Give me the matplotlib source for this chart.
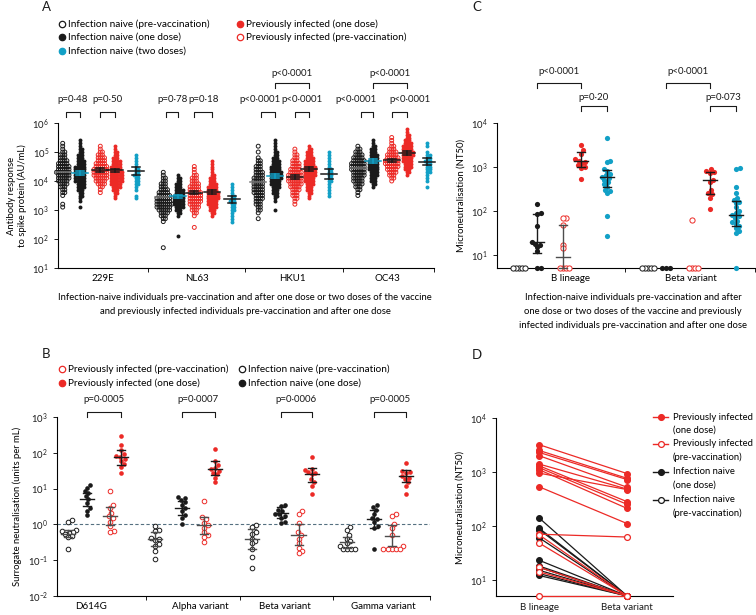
import numpy as np
import matplotlib
matplotlib.use('Agg')
import matplotlib.pyplot as plt
import matplotlib.transforms as mtransforms

plt.rcParams['font.family'] = ['Lato', 'DejaVu Sans']
plt.rcParams['mathtext.fontset'] = 'custom'
plt.rcParams['mathtext.rm'] = 'Lato'
plt.rcParams['font.size'] = 6.8
plt.rcParams['axes.linewidth'] = 0.8

RED = '#ec2a26'
BLUE = '#12a0c6'
BLACK = '#1a1a1a'
GREY = '#4d4d4d'

# ---------------- panel A: antibody response (log10 AU/mL) ----------------
# each column: (first log10 bin, counts per 0.1 log10 bin) read off the swarms
# column order: naive pre, naive one dose, previously infected pre, previously infected one dose, naive two doses
a_viruses = ['229E', 'NL63', 'HKU1', 'OC43']
a_229e = [(3.1, [1, 1, 0, 0, 1, 2, 2, 3, 4, 5, 6, 6, 7, 6, 6, 5, 4, 3, 3, 2, 1, 1, 1]),
          (3.1, [1, 0, 1, 1, 2, 2, 3, 4, 4, 5, 5, 5, 5, 5, 5, 4, 4, 3, 3, 2, 2, 1, 1, 1]),
          (3.6, [1, 1, 2, 4, 5, 6, 7, 7, 7, 6, 5, 4, 4, 3, 2, 1, 1]),
          (3.4, [1, 1, 2, 3, 4, 5, 6, 6, 6, 6, 5, 5, 4, 4, 3, 2, 2, 1, 1]),
          (3.4, [1, 1, 0, 1, 1, 2, 2, 2, 3, 2, 2, 1, 1, 1, 1, 1])]
a_nl63 = [(1.7, [1, 0, 0, 0, 0, 0, 0, 0, 0, 1, 2, 3, 4, 6, 7, 8, 7, 7, 6, 5, 4, 3, 3, 2, 2, 1, 1]),
          (2.1, [1, 0, 0, 0, 0, 0, 0, 1, 2, 3, 4, 5, 5, 5, 5, 4, 4, 3, 3, 2, 2, 1]),
          (2.4, [1, 0, 0, 0, 1, 2, 3, 4, 5, 6, 6, 6, 6, 5, 5, 4, 3, 3, 2, 1, 1, 1]),
          (2.8, [1, 2, 3, 4, 5, 5, 6, 6, 6, 5, 5, 4, 3, 3, 2, 1, 1, 1, 1, 1]),
          (2.6, [1, 1, 1, 1, 2, 2, 2, 3, 2, 2, 1, 1, 1, 1])]
a_hku1 = [(2.7, [1, 0, 1, 2, 2, 3, 3, 4, 4, 5, 5, 5, 5, 5, 5, 4, 4, 3, 3, 2, 2, 1, 0, 1, 0, 1]),
          (3.0, [1, 0, 0, 1, 1, 2, 3, 3, 4, 5, 5, 6, 6, 6, 5, 5, 4, 4, 3, 2, 2, 1, 1, 1, 1]),
          (3.2, [1, 1, 2, 3, 3, 4, 5, 6, 7, 7, 7, 6, 5, 4, 4, 3, 2, 2, 1, 1]),
          (3.4, [1, 1, 2, 3, 3, 4, 5, 5, 6, 6, 6, 6, 5, 5, 4, 3, 3, 2, 1]),
          (3.5, [1, 1, 1, 1, 1, 2, 2, 2, 2, 2, 1, 1, 1, 1, 1, 1])]
a_oc43 = [(3.5, [1, 1, 2, 3, 4, 5, 5, 6, 6, 7, 7, 7, 6, 5, 4, 3, 2, 1]),
          (3.8, [1, 2, 3, 3, 4, 4, 5, 5, 5, 5, 4, 4, 3, 3, 2, 1, 1]),
          (4.0, [1, 2, 3, 4, 5, 6, 7, 7, 6, 5, 4, 3, 2, 1, 1, 1]),
          (4.2, [1, 2, 3, 4, 4, 5, 5, 6, 6, 5, 5, 4, 3, 2, 2, 1, 1]),
          (3.8, [1, 0, 1, 1, 1, 2, 2, 2, 2, 3, 2, 2, 1, 0, 1, 1])]
a_profiles = [a_229e, a_nl63, a_hku1, a_oc43]
a_median_log = [[4.30, 4.28, 4.38, 4.37, 4.35],
                [3.45, 3.47, 3.60, 3.62, 3.37],
                [3.97, 4.17, 4.14, 4.40, 4.25],
                [4.45, 4.70, 4.72, 4.97, 4.66]]
a_halfci_log = [[0, 0.07, 0.06, 0.06, 0.15],
                [0, 0.06, 0.06, 0.06, 0.13],
                [0, 0.07, 0.07, 0.07, 0.18],
                [0, 0.07, 0.05, 0.06, 0.12]]
a_pvals_low = [['p=0·48', 'p=0·50'], ['p=0·78', 'p=0·18'],
               ['p<0·0001', 'p<0·0001'], ['p<0·0001', 'p<0·0001']]
a_pvals_high = [None, None, 'p<0·0001', 'p<0·0001']

# ---------------- panel B: surrogate neutralisation (units per mL) ----------------
b_variants = ['D614G', 'Alpha variant', 'Beta variant', 'Gamma variant']
b_naive_pre = [[1.3, 1.15, 0.72, 0.65, 0.63, 0.59, 0.53, 0.47, 0.45, 0.2],
               [0.9, 0.72, 0.65, 0.42, 0.4, 0.36, 0.28, 0.25, 0.18, 0.11],
               [0.95, 0.85, 0.6, 0.55, 0.4, 0.35, 0.3, 0.2, 0.12, 0.06],
               [0.85, 0.7, 0.5, 0.4, 0.35, 0.3, 0.25, 0.2, 0.2, 0.2, 0.2]]
b_naive_one = [[12.6, 10.7, 8.5, 7.7, 6.2, 5.0, 3.9, 2.9, 2.4, 1.8],
               [5.8, 5.5, 4.8, 4.2, 3.5, 2.8, 2.4, 1.8, 1.5, 1.0],
               [3.5, 3.2, 2.6, 2.3, 2.0, 1.9, 1.7, 1.5, 1.2, 1.1],
               [3.5, 3.0, 2.5, 2.0, 1.5, 1.4, 1.2, 0.9, 0.8, 0.2]]
b_prev_pre = [[8.3, 3.5, 2.9, 2.1, 1.7, 1.5, 1.2, 0.9, 0.65, 0.62],
              [4.5, 1.6, 1.4, 1.1, 0.95, 0.8, 0.6, 0.5, 0.45, 0.32],
              [2.3, 2.0, 1.1, 0.6, 0.5, 0.4, 0.3, 0.22, 0.18, 0.16],
              [1.9, 1.7, 1.0, 0.8, 0.5, 0.25, 0.2, 0.2, 0.2, 0.2, 0.2]]
b_prev_one = [[300, 165, 120, 90, 83, 78, 69, 60, 48, 39, 28],
              [125, 60, 45, 38, 35, 32, 28, 25, 20, 15],
              [75, 35, 33, 30, 28, 25, 18, 15, 12, 7],
              [52, 32, 30, 28, 22, 20, 18, 15, 12, 7]]
# centre, lower, upper of the bars
b_bar_naive_pre = [(0.55, 0.45, 0.7), (0.38, 0.25, 0.6), (0.38, 0.2, 0.75), (0.32, 0.22, 0.45)]
b_bar_naive_one = [(5.0, 3.3, 7.5), (2.8, 1.8, 4.5), (2.1, 1.5, 3.0), (1.4, 0.8, 2.5)]
b_bar_prev_pre = [(1.7, 0.95, 3.0), (0.95, 0.55, 1.6), (0.5, 0.27, 1.0), (0.47, 0.25, 0.95)]
b_bar_prev_one = [(75, 45, 120), (35, 24, 58), (25, 15, 38), (22, 15, 33)]
b_pvals = ['p=0·0005', 'p=0·0007', 'p=0·0006', 'p=0·0005']

# ---------------- panel C: microneutralisation (NT50) ----------------
c_variants = ['B lineage', 'Beta variant']
c_naive_pre = [[5, 5, 5, 5, 5], [5, 5, 5, 5, 5]]
c_naive_one = [[140, 90, 85, 45, 20, 18, 17, 15, 12, 5, 5], [5, 5, 5]]
c_prev_pre = [[70, 68, 48, 17, 14, 5, 5, 5, 5], [62, 5, 5, 5, 5]]
c_prev_one = [[3200, 2400, 2000, 1500, 1400, 1300, 1200, 1100, 1000, 950, 530],
              [900, 800, 760, 740, 500, 450, 300, 260, 240, 200, 110]]
c_naive_two = [[4500, 1400, 1300, 900, 800, 700, 650, 600, 550, 500, 450, 400, 350, 300, 280, 250, 78, 27],
               [950, 900, 350, 250, 200, 180, 160, 150, 120, 100, 90, 80, 75, 70, 60, 55, 50, 45, 40, 35, 32, 5]]
c_bar_naive_one = [(20, 11, 85), None]
c_bar_prev_pre = [(9, 5, 48), None]
c_bar_prev_one = [(1350, 1000, 2200), (500, 240, 760)]
c_bar_naive_two = [(600, 350, 850), (80, 45, 170)]

# ---------------- panel D: paired B lineage vs Beta variant ----------------
d_prev_one_b = [3200, 2500, 2300, 2000, 1400, 1300, 1200, 1100, 950, 530]
d_prev_one_beta = [930, 760, 720, 520, 480, 280, 250, 210, 470, 110]
d_prev_pre_b = [70, 68, 48, 17, 14, 5]
d_prev_pre_beta = [62, 5, 5, 5, 5, 5]
d_naive_one_b = [140, 90, 85, 60, 23, 18, 17, 15, 13, 12]
d_naive_one_beta = [5, 5, 5, 5, 5, 5, 5, 5, 5, 5]

W, H = 756, 615
fig = plt.figure(figsize=(W / 100, H / 100), dpi=100)
ov = fig.add_axes([0, 0, 1, 1])
ov.set_xlim(0, W)
ov.set_ylim(H, 0)
ov.axis('off')
ov.set_zorder(10)


def px_axes(l, t, r, b):
    a = fig.add_axes([l / W, 1 - b / H, (r - l) / W, (b - t) / H])
    a.patch.set_visible(False)
    return a


def style(ax):
    for s in ['top', 'right']:
        ax.spines[s].set_visible(False)
    ax.tick_params(direction='out', length=3, width=0.7, labelsize=6.8, colors=BLACK)


def log_ticks(ax, lo, hi):
    t = [10.0 ** k for k in range(lo, hi + 1)]
    ax.set_yticks(t)
    ax.set_yticklabels([r'$\mathregular{10^{%d}}$' % k for k in range(lo, hi + 1)])
    ax.minorticks_off()


def swarm_x(ax, xc, vals, diam):
    vals = np.asarray(vals, dtype=float)
    xy = ax.transData.transform(np.column_stack([np.full(len(vals), xc), vals]))
    x0 = xy[0, 0]
    ys = xy[:, 1]
    order = np.argsort(ys, kind='stable')
    px, py = [], []
    out = np.zeros(len(vals))
    for i in order:
        y = ys[i]
        near = [(bx, by) for bx, by in zip(px, py) if abs(by - y) < diam]
        cands = [0.0]
        for bx, by in near:
            d = np.sqrt(diam ** 2 - (by - y) ** 2)
            cands += [bx + d, bx - d]
        cands.sort(key=abs)
        c = cands[-1]
        for cc in cands:
            if all((cc - bx) ** 2 + (y - by) ** 2 >= diam ** 2 - 1e-6 for bx, by in near):
                c = cc
                break
        px.append(c)
        py.append(y)
        out[i] = c
    back = ax.transData.inverted().transform(np.column_stack([x0 + out, ys]))
    return back[:, 0]


def draw_swarm(ax, xc, vals, color, filled, diam, size, z=3, hollow='white'):
    xs = swarm_x(ax, xc, vals, diam)
    if filled:
        ax.scatter(xs, vals, s=size, color=color, linewidths=0, zorder=z, clip_on=False)
    else:
        ax.scatter(xs, vals, s=size, facecolors=hollow, edgecolors=color, linewidths=0.7,
                   zorder=z, clip_on=False)


def med_bar(ax, x, bar, color, unit_px, half_px=7, cap_px=4, lw=1.0):
    if bar is None:
        return
    mid, lo, hi = bar
    h = half_px / unit_px
    c = cap_px / unit_px
    ax.plot([x - h, x + h], [mid, mid], color=color, lw=lw, zorder=6, clip_on=False)
    if lo is not None and hi is not None and hi > lo:
        ax.plot([x, x], [lo, hi], color=color, lw=lw, zorder=6, clip_on=False)
        ax.plot([x - c, x + c], [lo, lo], color=color, lw=lw, zorder=6, clip_on=False)
        ax.plot([x - c, x + c], [hi, hi], color=color, lw=lw, zorder=6, clip_on=False)


def bracket(ax, x1, x2, ytop, label, ylab, xlab=None, drop=5):
    tr = mtransforms.blended_transform_factory(ax.transData, ov.transData)
    ax.plot([x1, x1, x2, x2], [ytop + drop, ytop, ytop, ytop + drop], color=BLACK, lw=0.8,
            transform=tr, clip_on=False)
    if xlab is None:
        xlab = (x1 + x2) / 2
    ax.text(xlab, ylab, label, transform=tr, ha='center', va='center', fontsize=7, color=BLACK)


def group_axis(ax, bounds, label_pos, labels):
    ax.set_xticks(bounds)
    ax.set_xticklabels([])
    ax.set_xticks(label_pos, minor=True)
    ax.set_xticklabels(labels, minor=True)
    ax.tick_params(axis='x', which='minor', length=0, pad=4, labelsize=7)


# ---------------- A ----------------
axA = px_axes(58, 123, 434, 268)
style(axA)
axA.set_yscale('log')
axA.set_ylim(10, 1e6)
axA.set_xlim(0, 4)
log_ticks(axA, 1, 6)
group_axis(axA, [0.96, 1.99, 3.03, 4.0], [0.48, 1.48, 2.49, 3.5], a_viruses)
a_xoff = [[0.05, 0.23, 0.45, 0.61, 0.83],
          [0.12, 0.28, 0.45, 0.64, 0.85],
          [0.13, 0.31, 0.52, 0.67, 0.88],
          [0.19, 0.35, 0.55, 0.71, 0.93]]
a_style = [(BLACK, False), (BLACK, True), (RED, False), (RED, True), (BLUE, True)]
a_barcol = ['#777777', BLUE, BLACK, BLACK, BLACK]
for g, prof in enumerate(a_profiles):
    for c, (start, counts) in enumerate(prof):
        vals = []
        for i, n in enumerate(counts):
            vals += [10 ** (start + 0.1 * i)] * n
        col, filled = a_style[c]
        x = g + a_xoff[g][c]
        draw_swarm(axA, x, vals, col, filled, 2.1, 8, hollow='none')
        m = a_median_log[g][c]
        e = a_halfci_log[g][c]
        bar = (10 ** m, 10 ** (m - e), 10 ** (m + e)) if e > 0 else (10 ** m, None, None)
        med_bar(axA, x, bar, a_barcol[c], 94, half_px=8, cap_px=4, lw=1.1)
    xo = [g + v for v in a_xoff[g]]
    lo_lab = [None, None]
    if g == 2:
        lo_lab = [xo[0] + 0.02, None]
    if g == 3:
        lo_lab = [xo[0] - 0.02, xo[2] + 0.2]
    bracket(axA, xo[0] + 0.03, xo[1], 112, a_pvals_low[g][0], 100, lo_lab[0])
    bracket(axA, xo[2], xo[3], 112, a_pvals_low[g][1], 100, lo_lab[1])
    if a_pvals_high[g]:
        bracket(axA, xo[1], xo[3], 83, a_pvals_high[g], 74)
axA.set_ylabel('Antibody response\nto spike protein (AU/mL)', fontsize=6.8, labelpad=4)
ov.text(245, 298, 'Infection-naive individuals pre-vaccination and after one dose or two doses of the vaccine',
        ha='center', va='center', fontsize=6.8)
ov.text(245, 312, 'and previously infected individuals pre-vaccination and after one dose',
        ha='center', va='center', fontsize=6.8)


def leg_marker(x, y, color, filled, ms=4.6):
    ov.plot([x], [y], marker='o', ms=ms, color=color,
            mfc=color if filled else 'white', mew=0.9, ls='none')


a_leg = [(62, 24, BLACK, False, 'Infection naive (pre-vaccination)'),
         (62, 37, BLACK, True, 'Infection naive (one dose)'),
         (62, 51, BLUE, True, 'Infection naive (two doses)'),
         (240, 24, RED, True, 'Previously infected (one dose)'),
         (240, 37, RED, False, 'Previously infected (pre-vaccination)')]
for x, y, col, f, t in a_leg:
    leg_marker(x, y, col, f)
    ov.text(x + 6, y, t, ha='left', va='center', fontsize=7.2)

# ---------------- B ----------------
axB = px_axes(57, 417, 430, 596)
style(axB)
axB.set_yscale('log')
axB.set_ylim(1e-2, 1e3)
axB.set_xlim(0, 4)
log_ticks(axB, -2, 3)
group_axis(axB, [0.95, 1.96, 2.96, 4.0], [0.36, 1.54, 2.44, 3.5], b_variants)
axB.axhline(1.0, color='#557080', lw=0.8, ls=(0, (3, 2)), zorder=1)
b_xoff = [[0.12, 0.32, 0.57, 0.69],
          [0.05, 0.34, 0.58, 0.69],
          [0.09, 0.40, 0.59, 0.73],
          [0.11, 0.40, 0.59, 0.74]]
for g in range(4):
    xo = [g + v for v in b_xoff[g]]
    draw_swarm(axB, xo[0], b_naive_pre[g], BLACK, False, 4.2, 11)
    draw_swarm(axB, xo[1], b_naive_one[g], BLACK, True, 4.2, 11)
    draw_swarm(axB, xo[2], b_prev_pre[g], RED, False, 4.2, 11)
    draw_swarm(axB, xo[3], b_prev_one[g], RED, True, 4.2, 11)
    med_bar(axB, xo[0], b_bar_naive_pre[g], GREY, 93)
    med_bar(axB, xo[1], b_bar_naive_one[g], BLACK, 93)
    med_bar(axB, xo[2], b_bar_prev_pre[g], GREY, 93)
    med_bar(axB, xo[3], b_bar_prev_one[g], BLACK, 93)
    bracket(axB, xo[1], xo[3], 412, b_pvals[g], 400)
axB.set_ylabel('Surrogate neutralisation (units per mL)', fontsize=6.8, labelpad=4)

b_leg = [(62, 369, RED, False, 'Previously infected (pre-vaccination)'),
         (62, 383, RED, True, 'Previously infected (one dose)'),
         (242, 369, BLACK, False, 'Infection naive (pre-vaccination)'),
         (242, 383, BLACK, True, 'Infection naive (one dose)')]
for x, y, col, f, t in b_leg:
    leg_marker(x, y, col, f)
    ov.text(x + 6, y, t, ha='left', va='center', fontsize=7.2)

# ---------------- C ----------------
axC = px_axes(497, 123, 755, 268)
style(axC)
axC.set_yscale('log')
axC.set_ylim(5, 1e4)
axC.set_xlim(0, 2)
log_ticks(axC, 1, 4)
group_axis(axC, [0.99, 2.0], [0.57, 1.5], c_variants)
c_xoff = [0.17, 0.31, 0.51, 0.65, 0.85]
for g in range(2):
    xo = [g + v for v in c_xoff]
    draw_swarm(axC, xo[0], c_naive_pre[g], BLACK, False, 3.0, 14)
    draw_swarm(axC, xo[1], c_naive_one[g], BLACK, True, 4.0, 14)
    draw_swarm(axC, xo[2], c_prev_pre[g], RED, False, 3.0, 14)
    draw_swarm(axC, xo[3], c_prev_one[g], RED, True, 4.0, 14)
    draw_swarm(axC, xo[4], c_naive_two[g], BLUE, True, 4.0, 14)
    med_bar(axC, xo[1], c_bar_naive_one[g], BLACK, 129)
    med_bar(axC, xo[2], c_bar_prev_pre[g], GREY, 129)
    med_bar(axC, xo[3], c_bar_prev_one[g], BLACK, 129)
    med_bar(axC, xo[4], c_bar_naive_two[g], BLACK, 129)
bracket(axC, c_xoff[1], c_xoff[3], 83, 'p<0·0001', 72)
bracket(axC, c_xoff[3], c_xoff[4], 106, 'p=0·20', 97)
bracket(axC, 1 + c_xoff[1], 1 + c_xoff[3], 83, 'p<0·0001', 72)
bracket(axC, 1 + c_xoff[3], 1 + c_xoff[4], 106, 'p=0·073', 97)
axC.set_ylabel('Microneutralisation (NT50)', fontsize=6.8, labelpad=4)
for y, t in [(298, 'Infection-naive individuals pre-vaccination and after'),
             (312, 'one dose or two doses of the vaccine and previously'),
             (325, 'infected individuals pre-vaccination and after one dose')]:
    ov.text(633, y, t, ha='center', va='center', fontsize=6.8)

# ---------------- D ----------------
axD = px_axes(496, 418, 673, 596)
style(axD)
axD.set_yscale('log')
axD.set_ylim(5, 1e4)
axD.set_xlim(-0.49, 1.52)
log_ticks(axD, 1, 4)
axD.set_xticks([0, 1])
axD.set_xticklabels(c_variants, fontsize=7)
axD.tick_params(axis='x', length=0, pad=5)
for b, bt in zip(d_naive_one_b, d_naive_one_beta):
    axD.plot([0, 1], [b, bt], color=BLACK, lw=0.9, marker='o', ms=4.2, mfc=BLACK, mew=0.8,
             clip_on=False, zorder=3)
for b, bt in zip(d_prev_pre_b, d_prev_pre_beta):
    axD.plot([0, 1], [b, bt], color=RED, lw=0.9, marker='o', ms=4.2, mfc='white', mew=0.9,
             clip_on=False, zorder=4)
for b, bt in zip(d_prev_one_b, d_prev_one_beta):
    axD.plot([0, 1], [b, bt], color=RED, lw=0.9, marker='o', ms=4.2, mfc=RED, mew=0.8,
             clip_on=False, zorder=5)
axD.set_ylabel('Microneutralisation (NT50)', fontsize=6.8, labelpad=4)

d_leg = [(417, RED, True, 'Previously infected', '(one dose)'),
         (444, RED, False, 'Previously infected', '(pre-vaccination)'),
         (472, BLACK, True, 'Infection naive', '(one dose)'),
         (500, BLACK, False, 'Infection naive', '(pre-vaccination)')]
for y, col, f, t1, t2 in d_leg:
    ov.plot([653, 668], [y, y], color=col, lw=1.0)
    ov.plot([661], [y], marker='o', ms=4.2, color=col, mfc=col if f else 'white', mew=0.9)
    ov.text(673, y, t1, ha='left', va='center', fontsize=6.8)
    ov.text(673, y + 13, t2, ha='left', va='center', fontsize=6.8)

# panel letters
for x, y, t in [(46, 7, 'A'), (46, 354, 'B'), (477, 7, 'C'), (477, 355, 'D')]:
    ov.text(x, y, t, ha='center', va='center', fontsize=9.5, color=BLACK)

fig.savefig('out.png', dpi=100)
